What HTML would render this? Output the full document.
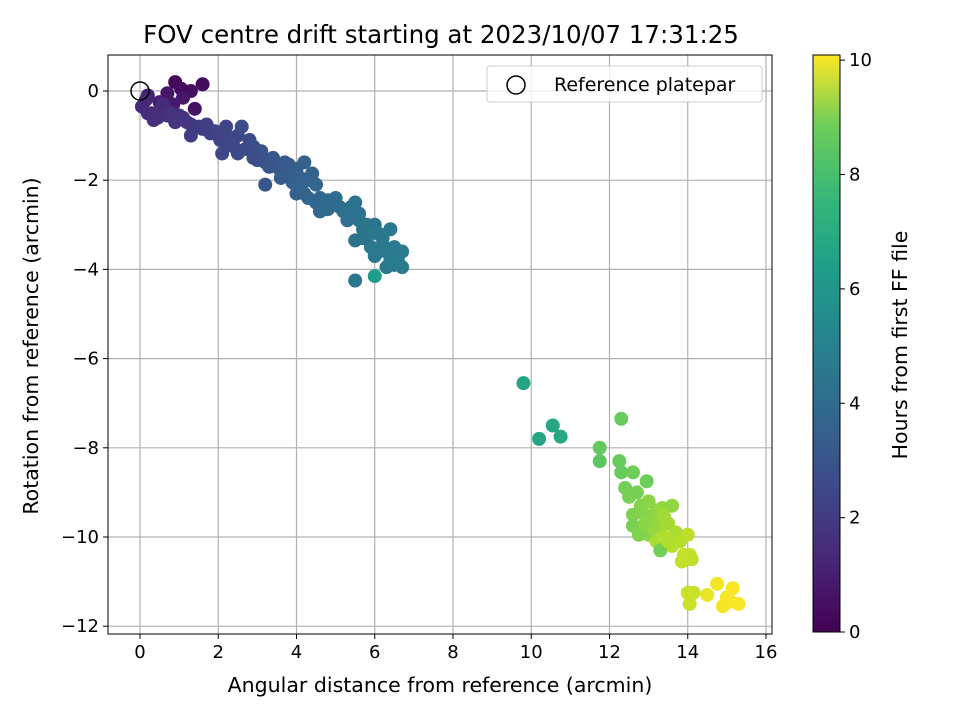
<!DOCTYPE html>
<html><head><meta charset="utf-8"><style>
body{margin:0;background:#fff}
svg{font-family:"DejaVu Sans","Liberation Sans",sans-serif}
</style></head><body>
<svg id="chart" width="960" height="720" xmlns="http://www.w3.org/2000/svg">
<defs><linearGradient id="vg" x1="0" y1="1" x2="0" y2="0">
<stop offset="0" stop-color="#440154"/><stop offset="0.13" stop-color="#482878"/><stop offset="0.25" stop-color="#3e4989"/><stop offset="0.38" stop-color="#31688e"/><stop offset="0.5" stop-color="#26828e"/><stop offset="0.63" stop-color="#1f9e89"/><stop offset="0.75" stop-color="#35b779"/><stop offset="0.88" stop-color="#6ece58"/><stop offset="1" stop-color="#fde725"/>
</linearGradient></defs>
<g id="grid"></g><g id="pts"></g><g id="axes"></g>
</svg>
<script>
const xs=[0.9,1.6,1.3,1.05,0.7,0.5,0.2,1.4,1.1,0.85,0.05,0.2,0.35,0.5,0.7,0.9,1.1,1.3,0.6,0.15,1.5,1.7,1.9,2.05,2.2,2.3,2.5,2.6,2.8,2.1,2.5,2.9,3.0,3.2,3.4,3.2,3.6,3.8,4.0,4.2,3.9,4.3,4.5,4.6,4.7,4.4,4.1,4.6,4.9,5.0,5.2,5.4,5.5,5.6,5.8,6.0,6.1,6.2,6.4,6.5,6.6,6.7,6.7,6.3,5.9,5.5,6.1,6.4,5.5,5.3,4.3,1.3,3.5,4.0,6.0,
0.3,0.45,0.8,1.0,1.2,1.6,1.8,2.0,2.3,2.4,2.7,3.0,3.1,3.3,3.7,3.9,4.1,4.2,4.5,4.8,5.1,5.3,5.6,5.7,5.9,6.2,6.3,6.5,6.6,2.2,2.9,3.6,4.8,5.7,6.0,
9.8,10.2,10.55,10.75,12.3,11.75,11.75,12.25,12.3,12.6,12.95,12.4,12.5,12.7,12.6,12.8,13.0,13.1,13.2,13.35,12.6,12.75,13.0,13.3,13.5,13.6,13.7,13.2,13.4,13.6,13.8,14.0,14.05,13.9,13.3,14.1,13.85,14.0,14.15,14.05,14.5,14.75,14.9,15.0,15.15,15.3,15.1,13.5,12.9,13.1,13.4,12.9];
const ys=[0.2,0.15,0.0,0.05,-0.05,-0.25,-0.1,-0.4,-0.15,-0.3,-0.35,-0.5,-0.65,-0.45,-0.55,-0.7,-0.6,-0.75,-0.3,-0.2,-0.8,-0.75,-0.9,-1.1,-0.8,-1.2,-1.0,-0.8,-1.1,-1.4,-1.4,-1.25,-1.55,-1.6,-1.5,-2.1,-1.8,-1.65,-1.75,-1.6,-2.05,-2.0,-2.1,-2.4,-2.6,-1.85,-2.2,-2.7,-2.5,-2.4,-2.7,-2.6,-2.5,-2.9,-3.0,-3.0,-3.2,-3.3,-3.1,-3.5,-3.7,-3.6,-3.95,-3.95,-3.5,-3.35,-3.6,-3.8,-4.25,-2.9,-2.4,-1.0,-1.7,-2.3,-4.15,
-0.5,-0.6,-0.5,-0.55,-0.7,-0.85,-0.95,-1.0,-1.05,-1.25,-1.3,-1.45,-1.35,-1.7,-1.6,-1.9,-1.95,-2.3,-2.5,-2.45,-2.6,-2.75,-2.75,-3.1,-3.2,-3.45,-3.6,-3.9,-3.85,-1.2,-1.5,-1.95,-2.65,-3.3,-3.7,
-6.55,-7.8,-7.5,-7.75,-7.35,-8.0,-8.3,-8.3,-8.55,-8.55,-8.75,-8.9,-9.1,-9.0,-9.5,-9.3,-9.2,-9.6,-9.4,-9.35,-9.75,-9.95,-9.95,-9.8,-9.7,-9.3,-9.9,-10.1,-10.0,-10.2,-10.1,-9.95,-10.4,-10.4,-10.3,-10.5,-10.55,-11.25,-11.25,-11.5,-11.3,-11.05,-11.55,-11.35,-11.15,-11.5,-11.45,-10.1,-9.5,-9.8,-9.55,-9.7];
const hs=[0.2,0.3,0.4,0.3,0.6,0.8,0.9,0.5,0.6,0.7,1.2,1.3,1.4,1.4,1.5,1.6,1.6,1.7,1.3,1.1,1.8,1.9,2.0,2.1,2.1,2.2,2.2,2.3,2.3,2.2,2.4,2.5,2.6,2.6,2.7,2.7,2.9,3.0,3.0,3.1,3.1,3.2,3.3,3.3,3.4,3.2,3.2,3.4,3.5,3.6,3.6,3.7,3.8,3.8,3.9,3.9,4.0,4.0,4.1,4.1,4.2,4.2,4.2,4.1,4.0,3.8,4.1,4.2,4.0,3.7,3.3,1.8,2.8,3.1,5.6,
1.3,1.4,1.5,1.5,1.6,1.8,1.9,2.0,2.1,2.2,2.3,2.5,2.6,2.7,2.9,3.0,3.1,3.2,3.3,3.5,3.6,3.7,3.8,3.9,4.0,4.1,4.1,4.2,4.2,2.1,2.4,2.9,3.5,3.9,4.0,
5.9,5.9,6.0,6.0,7.7,7.6,7.5,7.7,7.7,7.8,7.8,7.9,8.0,8.0,8.1,8.2,8.3,8.4,8.4,8.5,8.0,8.1,8.2,8.6,8.7,8.4,8.8,8.8,8.9,9.0,9.0,9.1,9.2,9.2,7.9,9.1,9.2,9.3,9.3,9.3,9.8,9.9,9.95,10.0,10.0,10.0,10.0,8.9,8.2,8.5,8.7,8.3];
const xTicks=[0,2,4,6,8,10,12,14,16];
const yTicks=[0,-2,-4,-6,-8,-10,-12];
const cTicks=[0,2,4,6,8,10];
const L=108,R=772,T=55,B=634;
const X=v=>140+v*39.125, Y=v=>91-v*44.6;
const CMAX=10.09, CB=632, CT=55, C=v=>CB-v*(CB-CT)/CMAX;
const vir=[[68,1,84],[72,40,120],[62,73,137],[49,104,142],[38,130,142],[31,158,137],[53,183,121],[110,206,88],[181,222,43],[253,231,37]];
function col(h){let t=Math.max(0,Math.min(1,h/CMAX))*(vir.length-1);let i=Math.min(vir.length-2,Math.floor(t)),f=t-i;
return 'rgb('+vir[i].map((c,k)=>Math.round(c+(vir[i+1][k]-c)*f)).join(',')+')';}
const NS='http://www.w3.org/2000/svg';
function mk(tag,at,par,txt){const e=document.createElementNS(NS,tag);for(const k in at)e.setAttribute(k,at[k]);if(txt!==undefined)e.textContent=txt;par.appendChild(e);return e;}
const g=document.getElementById('grid'),p=document.getElementById('pts'),a=document.getElementById('axes');
xTicks.forEach(v=>{const l=mk('line',{x1:X(v),x2:X(v),y1:T,y2:B,stroke:'#b0b0b0','stroke-width':1.2},g);
mk('line',{x1:X(v),x2:X(v),y1:B,y2:B+5,stroke:'#000'},a);
const t=mk('text',{x:X(v),y:B+24,'text-anchor':'middle','font-size':18},a,String(v).replace('-','−'));});
yTicks.forEach(v=>{const l=mk('line',{x1:L,x2:R,y1:Y(v),y2:Y(v),stroke:'#b0b0b0','stroke-width':1.2},g);
mk('line',{x1:L-5,x2:L,y1:Y(v),y2:Y(v),stroke:'#000'},a);
const t=mk('text',{x:L-9,y:Y(v)+6,'text-anchor':'end','font-size':18},a,String(v).replace('-','−'));});
xs.forEach((x,i)=>{const c=mk('circle',{cx:X(x),cy:Y(ys[i]),r:7,fill:col(hs[i])},p);});
const ref=mk('circle',{cx:X(0),cy:Y(0),r:9,fill:'none',stroke:'#000','stroke-width':1.5},p);
const fr=mk('rect',{x:L,y:T,width:R-L,height:B-T,fill:'none',stroke:'#000','stroke-width':1},a);
const ti=mk('text',{x:441,y:43,'text-anchor':'middle','font-size':24.5},a,'FOV centre drift starting at 2023/10/07 17:31:25');
const xl=mk('text',{x:440,y:692,'text-anchor':'middle','font-size':20.5},a,'Angular distance from reference (arcmin)');
const yl=mk('text',{x:38,y:346,'text-anchor':'middle','font-size':20.5,transform:'rotate(-90 38 346)'},a,'Rotation from reference (arcmin)');
const lg=mk('g',{},a);
mk('rect',{x:487,y:66,width:275,height:36,rx:3,fill:'#fff','fill-opacity':0.8,stroke:'#ccc'},lg);
mk('circle',{cx:516,cy:85,r:9,fill:'none',stroke:'#000','stroke-width':1.5},lg);
mk('text',{x:554,y:91,'font-size':19},lg,'Reference platepar');
const cb=mk('rect',{x:813,y:CT,width:27,height:CB-CT,fill:'url(#vg)',stroke:'#000','stroke-width':1},a);
cTicks.forEach(v=>{mk('line',{x1:840,x2:845,y1:C(v),y2:C(v),stroke:'#000'},a);
const t=mk('text',{x:849,y:C(v)+6,'font-size':18},a,String(v));});
const cl=mk('text',{x:907,y:345,'text-anchor':'middle','font-size':20.5,transform:'rotate(-90 907 345)'},a,'Hours from first FF file');
</script>
</body></html>
